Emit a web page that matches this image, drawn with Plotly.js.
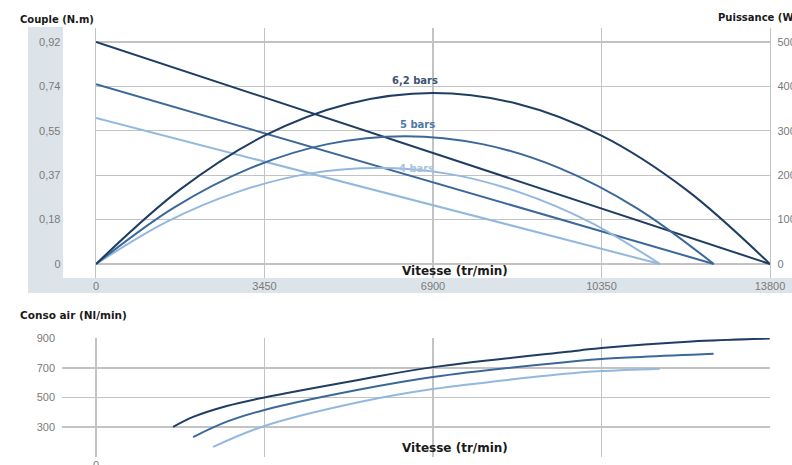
<!DOCTYPE html>
<html>
<head>
<meta charset="utf-8">
<script src="https://cdn.plot.ly/plotly-3.0.1.min.js"></script>
<style>html,body{margin:0;padding:0;background:#fff}#chart{width:792px;height:465px}</style>
</head>
<body>
<div id="chart"></div>
<script>
// ---- Data ----
const speedTicks = [0, 3450, 6900, 10350, 13800];
const speedTickText = ['0', '3450', '6900', '10350', '13800'];
const torqueTicks = [0, 0.184, 0.368, 0.552, 0.736, 0.92];
const torqueTickText = ['0', '0,18', '0,37', '0,55', '0,74', '0,92'];
const powerTicks = [0, 100, 200, 300, 400, 500];
const airTicks = [300, 500, 700, 900];

// Couple (N.m) vs speed
const torqueSpeed62 = [0, 13800], torque62 = [0.92, 0];
const torqueSpeed5 = [0, 12650], torque5 = [0.745, 0];
const torqueSpeed4 = [0, 11550], torque4 = [0.605, 0];

// Puissance (W) vs speed
const powerSpeed62 = [0, 1725, 3450, 5175, 6900, 8625, 10350, 12075, 13800];
const power62 = [0, 168, 289, 361, 385, 361, 289, 168, 0];
const powerSpeed5 = [0, 1580, 3160, 4740, 6325, 7910, 9490, 11070, 12650];
const power5 = [0, 126, 216, 270, 288, 270, 216, 126, 0];
const powerSpeed4 = [0, 1445, 2890, 4330, 5775, 7220, 8660, 10105, 11550];
const power4 = [0, 95, 162, 203, 216, 203, 162, 95, 0];

// Conso air (Nl/min) vs speed
const airSpeed62 = [1580, 1990, 2680, 3450, 5400, 6900, 9900, 10350, 12200, 13800];
const air62 = [300, 368, 442, 500, 620, 705, 818, 835, 879, 898];
const airSpeed5 = [1990, 2680, 3450, 5400, 6900, 9900, 10350, 12650];
const air5 = [232, 336, 415, 553, 638, 748, 760, 795];
const airSpeed4 = [2400, 3450, 5400, 6900, 9900, 10350, 11550];
const air4 = [165, 307, 469, 557, 668, 678, 694];

const pressureLabels = ['6,2 bars', '5 bars', '4 bars'];

// ---- Styles ----
const C62 = '#1f3d63', C5 = '#3b6899', C4 = '#93b8de';
const GRID = '#c3c3c3';
const W = 792, H = 465;
const px = x => x / W, py = y => 1 - y / H;

function line(x, y, color, xa, ya, shape) {
  return {x: x, y: y, xaxis: xa, yaxis: ya, type: 'scatter', mode: 'lines',
    line: {color: color, width: 2, shape: shape || 'linear', smoothing: 1},
    hoverinfo: 'skip', showlegend: false};
}

const traces = [
  line(powerSpeed4, power4, C4, 'x', 'y2', 'spline'),
  line(powerSpeed5, power5, C5, 'x', 'y2', 'spline'),
  line(powerSpeed62, power62, C62, 'x', 'y2', 'spline'),
  line(torqueSpeed4, torque4, C4, 'x', 'y'),
  line(torqueSpeed5, torque5, C5, 'x', 'y'),
  line(torqueSpeed62, torque62, C62, 'x', 'y'),
  line(airSpeed4, air4, C4, 'x2', 'y3', 'spline'),
  line(airSpeed5, air5, C5, 'x2', 'y3', 'spline'),
  line(airSpeed62, air62, C62, 'x2', 'y3', 'spline')
];

const tickFont = {family: 'Liberation Sans, Arial, sans-serif', size: 11, color: '#7a7a7a'};
const boldFont = s => ({family: 'DejaVu Sans, sans-serif', size: s, color: '#1a1a1a', weight: 'bold'});

const layout = {
  width: W, height: H,
  margin: {l: 0, r: 0, t: 0, b: 0},
  paper_bgcolor: '#ffffff', plot_bgcolor: '#ffffff',
  showlegend: false,
  xaxis: {domain: [px(96), px(770)], range: [0, 13800], anchor: 'y',
    tickmode: 'array', tickvals: speedTicks, ticktext: speedTickText,
    showgrid: true, gridcolor: GRID, gridwidth: 1.3, zeroline: false, showline: false,
    ticks: '', tickfont: tickFont, ticklabelstandoff: 0},
  yaxis: {domain: [py(278), py(28)], range: [-0.058, 0.978], anchor: 'x',
    tickmode: 'array', tickvals: torqueTicks, ticktext: torqueTickText,
    showgrid: true, gridcolor: GRID, gridwidth: 1.3, zeroline: false,
    showline: true, linecolor: GRID, linewidth: 1.3,
    ticks: '', tickfont: tickFont, ticklabelstandoff: 32},
  yaxis2: {overlaying: 'y', side: 'right', anchor: 'x', range: [-31.5, 531.5],
    tickmode: 'array', tickvals: powerTicks,
    showgrid: false, zeroline: false, showline: true, linecolor: GRID, linewidth: 1.3,
    ticks: '', tickfont: tickFont, ticklabelstandoff: 4},
  xaxis2: {domain: [px(62), px(770)], range: [-696, 13805], anchor: 'y3',
    tickmode: 'array', tickvals: speedTicks, ticktext: ['0', '', '', '', ''],
    showgrid: true, gridcolor: GRID, gridwidth: 1.3, zeroline: false, showline: false,
    ticks: '', tickfont: tickFont, ticklabelstandoff: 0},
  yaxis3: {domain: [py(457), py(338)], range: [97, 902], anchor: 'x2',
    tickmode: 'array', tickvals: airTicks,
    showgrid: true, gridcolor: GRID, gridwidth: 1.3, zeroline: false, showline: false,
    ticks: '', tickfont: tickFont, ticklabelstandoff: 6},
  shapes: [
    {type: 'rect', xref: 'paper', yref: 'paper', x0: px(28), x1: px(63), y0: py(293), y1: py(27),
      fillcolor: '#dde4e9', line: {width: 0}, layer: 'below'},
    {type: 'rect', xref: 'paper', yref: 'paper', x0: px(28), x1: 1, y0: py(293), y1: py(278),
      fillcolor: '#dde4e9', line: {width: 0}, layer: 'below'}
  ],
  annotations: [
    {text: 'Couple (N.m)', xref: 'paper', yref: 'paper', x: px(18), y: py(20), xanchor: 'left', yanchor: 'middle', showarrow: false, font: boldFont(10)},
    {text: 'Puissance (W)', xref: 'paper', yref: 'paper', x: px(716), y: py(18), xanchor: 'left', yanchor: 'middle', showarrow: false, font: boldFont(10)},
    {text: 'Vitesse (tr/min)', xref: 'paper', yref: 'paper', x: px(455), y: py(271), xanchor: 'center', yanchor: 'middle', showarrow: false, font: boldFont(12)},
    {text: 'Conso air (Nl/min)', xref: 'paper', yref: 'paper', x: px(18), y: py(315), xanchor: 'left', yanchor: 'middle', showarrow: false, font: boldFont(10.5)},
    {text: 'Vitesse (tr/min)', xref: 'paper', yref: 'paper', x: px(455), y: py(448), xanchor: 'center', yanchor: 'middle', showarrow: false, font: boldFont(12)},
    {text: pressureLabels[0], xref: 'x', yref: 'y2', x: 6530, y: 414, showarrow: false, font: {family: 'DejaVu Sans, sans-serif', size: 10, color: '#3c5272', weight: 'bold'}},
    {text: pressureLabels[1], xref: 'x', yref: 'y2', x: 6590, y: 315, showarrow: false, font: {family: 'DejaVu Sans, sans-serif', size: 10, color: '#4d78a8', weight: 'bold'}},
    {text: pressureLabels[2], xref: 'x', yref: 'y2', x: 6570, y: 216, showarrow: false, font: {family: 'DejaVu Sans, sans-serif', size: 10, color: '#a7c3e2', weight: 'bold'}}
  ]
};

Plotly.newPlot('chart', traces, layout, {displayModeBar: false, staticPlot: true});
</script>
</body>
</html>
